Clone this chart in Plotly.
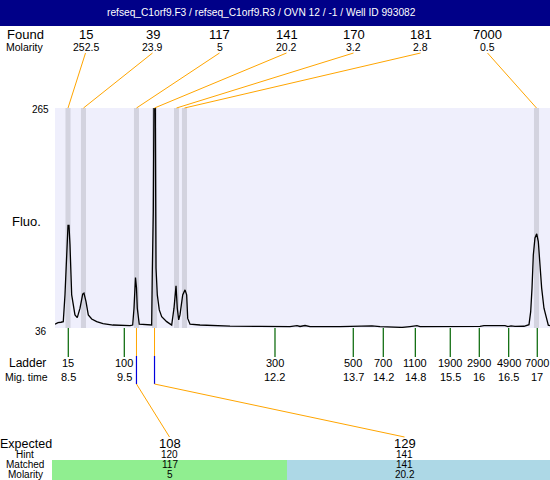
import plotly.graph_objects as go

# ---------------- data ----------------
title_text = "refseq_C1orf9.F3 / refseq_C1orf9.R3 / OVN 12 / -1 / Well ID 993082"

found_sizes = ["15", "39", "117", "141", "170", "181", "7000"]
found_molarity = ["252.5", "23.9", "5", "20.2", "3.2", "2.8", "0.5"]
found_times = [8.500, 8.782, 9.748, 10.077, 10.478, 10.623, 17.040]

ladder_sizes = ["15", "100", "300", "500", "700", "1100", "1900", "2900", "4900", "7000"]
ladder_time_labels = ["8.5", "9.5", "12.2", "13.7", "14.2", "14.8", "15.5", "16", "16.5", "17"]
ladder_times = [8.505, 9.526, 12.273, 13.700, 14.247, 14.831, 15.468, 15.997, 16.533, 17.054]

expected_sizes = ["108", "129"]
expected_hint = ["120", "141"]
expected_matched = ["117", "141"]
expected_molarity = ["5", "20.2"]
expected_found_index = [2, 3]

trace_time = [8.263, 8.318, 8.372, 8.414, 8.445, 8.476, 8.500, 8.518, 8.536, 8.567,
              8.627, 8.669, 8.719, 8.768, 8.791, 8.828, 8.870, 8.932, 9.023, 9.138,
              9.320, 9.630, 9.679, 9.703, 9.730, 9.748, 9.763, 9.799, 9.934, 10.025,
              10.036, 10.055, 10.067, 10.091, 10.104, 10.128, 10.164, 10.208, 10.299, 10.390,
              10.432, 10.469, 10.492, 10.518, 10.541, 10.591, 10.633, 10.663, 10.682, 10.724,
              10.906, 11.088, 11.453, 11.999, 12.546, 12.674, 12.729, 12.820, 12.911, 13.458,
              13.914, 14.041, 14.187, 14.588, 14.734, 14.861, 14.916, 15.463, 16.010, 16.083,
              16.466, 16.520, 16.575, 16.648, 16.812, 16.903, 16.934, 16.958, 16.982, 17.012,
              17.044, 17.073, 17.104, 17.134, 17.176, 17.213, 17.255, 17.286]
trace_fluo = [39.9, 41.6, 42.0, 42.6, 70.5, 122.8, 142.7, 142.7, 122.8, 70.5,
              49.6, 46.8, 56.6, 71.2, 72.3, 63.5, 49.6, 45.4, 42.6, 40.5,
              39.1, 38.4, 39.1, 56.6, 88.6, 78.2, 56.6, 39.9, 39.1, 39.1,
              91.4, 157.6, 270.0, 270.0, 98.4, 70.5, 54.8, 47.8, 42.6, 39.1,
              56.6, 79.9, 56.6, 44.4, 49.6, 70.5, 75.7, 70.5, 46.0, 39.9,
              39.1, 38.6, 38.0, 37.6, 37.5, 38.5, 37.6, 38.6, 37.5, 37.4,
              37.6, 38.3, 37.5, 36.6, 37.5, 38.4, 37.5, 37.5, 37.6, 38.4,
              38.4, 37.5, 38.2, 37.6, 37.8, 39.5, 53.0, 77.5, 112.0, 129.8,
              134.0, 126.0, 101.9, 77.5, 56.6, 49.6, 39.0, 38.5]

# ---------------- layout constants (pixels) ----------------
W, H = 550, 480
PLOT_L, PLOT_R, PLOT_T, PLOT_B = 55, 550, 108, 328
X_RANGE = [8.263, 17.286]
Y_RANGE = [36, 265]
BAND_HALF = 0.046
FOUND_SLOTS_PX = [85.5, 152.5, 219.5, 286.5, 353.5, 420.5, 487.5]
EXPECTED_COLS_PX = [169.5, 404.5]
FONT = "Liberation Sans, Arial, sans-serif"
ORANGE = "#FFA500"


def py(p):
    return 1 - p / H


def px_slot_to_x(p):
    # horizontal layout slot -> axis units (layout only)
    return X_RANGE[0] + (p - PLOT_L) / (PLOT_R - PLOT_L) * (X_RANGE[1] - X_RANGE[0])


fig = go.Figure(go.Scatter(x=trace_time, y=trace_fluo, mode="lines",
                           line=dict(color="black", width=1.3), hoverinfo="skip"))

shapes = []
ann = []


def text(t, x, y, size, color="black", xref="paper", xanchor="center"):
    ann.append(dict(text=t, x=x, y=py(y), xref=xref, yref="paper", showarrow=False,
                    xanchor=xanchor, yanchor="middle", borderpad=0,
                    font=dict(family=FONT, size=size, color=color)))


# title bar
shapes.append(dict(type="rect", xref="paper", yref="paper", x0=0, x1=1, y0=py(26), y1=1,
                   fillcolor="#000088", line=dict(width=0), layer="below"))
text(title_text, 261 / W, 12.5, 10.2, color="white")

# found bands
for t in found_times:
    shapes.append(dict(type="rect", xref="x", yref="y", x0=t - BAND_HALF, x1=t + BAND_HALF,
                       y0=Y_RANGE[0], y1=Y_RANGE[1], fillcolor="#D3D3DF",
                       line=dict(width=0), layer="below"))

# found labels + connectors
text("Found", 25 / W, 34.5, 13)
text("Molarity", 25 / W, 47, 10.5)
for i, t in enumerate(found_times):
    sx = FOUND_SLOTS_PX[i]
    text(found_sizes[i], sx / W, 34.5, 13)
    text(found_molarity[i], sx / W, 47, 10.5)
    shapes.append(dict(type="line", xref="x", yref="paper", x0=px_slot_to_x(sx), y0=py(53),
                       x1=t, y1=py(PLOT_T), line=dict(color=ORANGE, width=1)))

# y labels
text("265", 40.5 / W, 110, 10)
text("36", 40.5 / W, 331, 10)
text("Fluo.", 26 / W, 221, 13)

# ladder
text("Ladder", 27 / W, 363, 12)
text("Mig. time", 26 / W, 377, 10.5)
for t, s, m in zip(ladder_times, ladder_sizes, ladder_time_labels):
    shapes.append(dict(type="line", xref="x", yref="paper", x0=t, x1=t, y0=py(PLOT_B), y1=py(357),
                       line=dict(color="#006400", width=1.2)))
    text(s, t, 363, 11, xref="x")
    text(m, t, 377, 11, xref="x")

# expected table
shapes.append(dict(type="rect", xref="paper", yref="paper", x0=52 / W, x1=287 / W, y0=0, y1=py(460),
                   fillcolor="#90EE90", line=dict(width=0), layer="below"))
shapes.append(dict(type="rect", xref="paper", yref="paper", x0=287 / W, x1=1, y0=0, y1=py(460),
                   fillcolor="#ADD8E6", line=dict(width=0), layer="below"))
text("Expected", 26 / W, 443.5, 12.5)
text("Hint", 25 / W, 454.5, 10)
text("Matched", 25 / W, 464.5, 10)
text("Molarity", 25 / W, 474.3, 10)
for j, cx in enumerate(EXPECTED_COLS_PX):
    text(expected_sizes[j], cx / W, 443.5, 13)
    text(expected_hint[j], cx / W, 454.5, 10)
    text(expected_matched[j], cx / W, 464.5, 10)
    text(expected_molarity[j], cx / W, 474.3, 10)
    t = found_times[expected_found_index[j]]
    shapes.append(dict(type="line", xref="x", yref="paper", x0=t, x1=t, y0=py(PLOT_B), y1=py(356),
                       line=dict(color=ORANGE, width=1)))
    shapes.append(dict(type="line", xref="x", yref="paper", x0=t, x1=t, y0=py(356), y1=py(384),
                       line=dict(color="#0000DD", width=1.2)))
    shapes.append(dict(type="line", xref="x", yref="paper", x0=t, y0=py(384),
                       x1=px_slot_to_x(cx), y1=py(437), line=dict(color=ORANGE, width=1)))

fig.update_layout(
    width=W, height=H, margin=dict(l=0, r=0, t=0, b=0),
    paper_bgcolor="white", plot_bgcolor="#EFEFFC", showlegend=False,
    xaxis=dict(domain=[PLOT_L / W, PLOT_R / W], range=X_RANGE, visible=False, fixedrange=True),
    yaxis=dict(domain=[py(PLOT_B), py(PLOT_T)], range=Y_RANGE, visible=False, fixedrange=True),
    shapes=shapes, annotations=ann,
)
fig.write_html("out.html", config={"displayModeBar": False},
               post_script="document.body.style.margin='0';document.body.style.overflow='hidden';")
